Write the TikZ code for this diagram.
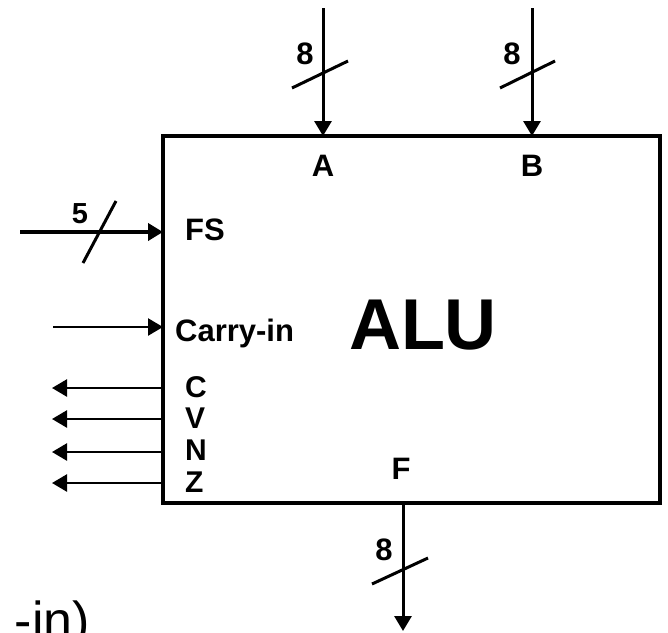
\documentclass[tikz,border=0pt]{standalone}
\usepackage{fontspec}
\setmainfont{Liberation Sans}
\usetikzlibrary{arrows.meta}
\begin{document}
\begin{tikzpicture}[x=1pt,y=-1pt,
  tip/.style={-{Triangle[length=15pt,width=17pt]}},
  bus/.style={line width=3pt},
  thin/.style={line width=2.5pt},
  slash/.style={line width=3pt},
  lbl/.style={inner sep=0pt, font=\bfseries\fontsize{#1}{#1}\selectfont},
  lbl/.default=31]
\useasboundingbox (0,0) rectangle (668,632);
\clip (0,0) rectangle (668,632);

% ALU box
\node[draw, line width=4pt, minimum width=497pt, minimum height=367pt,
      inner sep=0pt, outer sep=0pt, anchor=north west] (alu) at (163,136) {};
\node[lbl=72, anchor=base] (alutxt) at (423,349) {ALU};

% coordinates on the box
\coordinate (ain) at (323,136);
\coordinate (bin) at (532,136);
\coordinate (fsin) at (163,232);
\coordinate (cin) at (163,327);
\coordinate (cout) at (163,388);
\coordinate (vout) at (163,419);
\coordinate (nout) at (163,452);
\coordinate (zout) at (163,483);
\coordinate (fout) at (403,503);

% free ends
\coordinate (a0) at (323,8);
\coordinate (b0) at (532,8);
\coordinate (fs0) at (20,232);
\coordinate (c0) at (53,327);
\coordinate (cE) at (52,388);
\coordinate (vE) at (52,419);
\coordinate (nE) at (52,452);
\coordinate (zE) at (52,483);
\coordinate (fE) at (403,631);

% connectors
\draw[bus, tip] (a0) -- (ain);
\draw[bus, tip] (b0) -- (bin);
\draw[line width=4pt, tip] (fs0) -- (fsin);
\draw[thin, tip] (c0) -- (cin);
\draw[thin, tip] (cout) -- (cE);
\draw[thin, tip] (vout) -- (vE);
\draw[thin, tip] (nout) -- (nE);
\draw[thin, tip] (zout) -- (zE);
\draw[bus, tip] (fout) -- (fE);

% bus width slashes
\draw[slash] (292,88) -- (348,61);
\draw[slash] (500,88) -- (555,61);
\draw[slash] (83,263) -- (116,201);
\draw[slash] (372,584) -- (428,558);

% width labels
\node[lbl=31, anchor=base] (wa) at (305,64) {8};
\node[lbl=31, anchor=base] (wb) at (512,64) {8};
\node[lbl=29, anchor=base] (wfs) at (80,223) {5};
\node[lbl=31, anchor=base] (wf) at (384,560) {8};

% port labels
\node[lbl=31, anchor=base] (la) at (323,176) {A};
\node[lbl=31, anchor=base] (lb) at (532,176) {B};
\node[lbl=31, anchor=base west] (lfs) at (185,240) {FS};
\node[lbl=31, anchor=base west] (lcin) at (175,341) {Carry-in};
\node[lbl=30, anchor=base west] (lc) at (185,397) {C};
\node[lbl=30, anchor=base west] (lv) at (185,428) {V};
\node[lbl=30, anchor=base west] (ln) at (185,460) {N};
\node[lbl=30, anchor=base west] (lz) at (185,492) {Z};
\node[lbl=31, anchor=base] (lf) at (401,479) {F};

% leftover text fragment, cut off at the picture's edge as in the reference
\node[inner sep=0pt, font=\fontsize{52}{52}\selectfont, anchor=base east] (frag) at (90,638) {-in)};
\end{tikzpicture}
\end{document}
